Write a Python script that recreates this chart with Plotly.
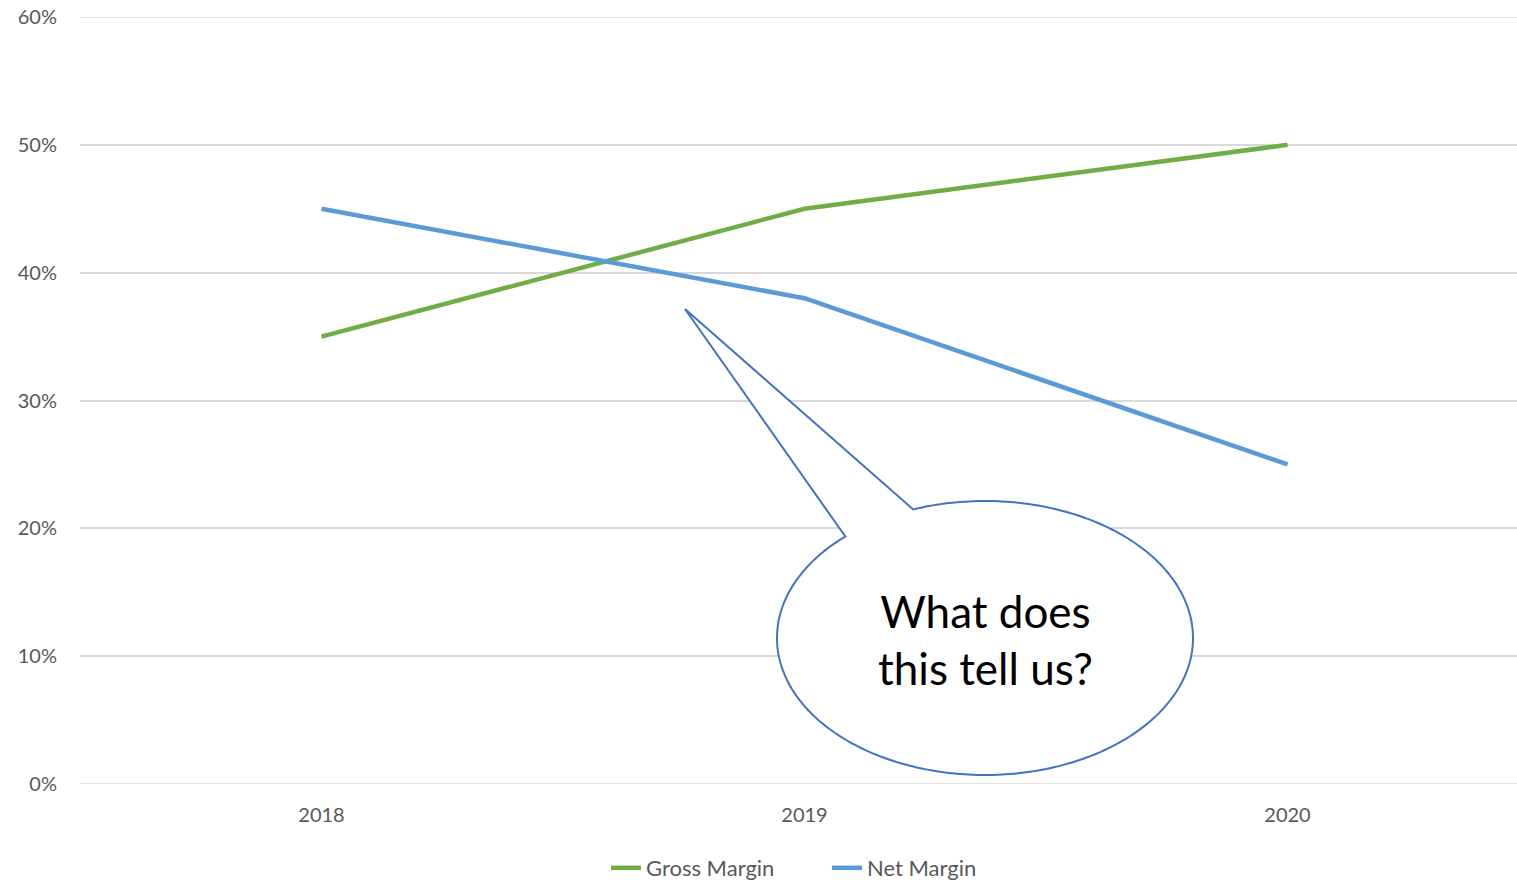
import numpy as np
import plotly.graph_objects as go

years = ["2018", "2019", "2020"]
gross_margin = [0.35, 0.45, 0.50]
net_margin = [0.45, 0.38, 0.25]
y_ticks = [0, 0.1, 0.2, 0.3, 0.4, 0.5, 0.6]
callout_text = "What does<br>this tell us?"

W, H = 1517, 883
L, R, T, B = 80, 1517, 17, 784

def px(xp):
    return (xp - L) / (R - L)

def py(yp):
    return (B - yp) / (B - T)

fig = go.Figure()
fig.add_trace(go.Scatter(x=years, y=gross_margin, mode="lines", name="Gross Margin",
                         line=dict(color="#70AD47", width=4.5)))
fig.add_trace(go.Scatter(x=years, y=net_margin, mode="lines", name="Net Margin",
                         line=dict(color="#5B9BD5", width=4.5)))

# gridlines at the range edges (plotly omits them)
for v in (y_ticks[0], y_ticks[-1]):
    fig.add_shape(type="line", xref="paper", yref="y", x0=0, x1=1, y0=v, y1=v,
                  line=dict(color="#D9D9D9", width=1.5), layer="below")

# speech bubble (ellipse + tail)
cx, cy, rx, ry = 985, 638, 208, 137
apex = (685, 309)
p_left = (846, 537)
p_right = (913, 509)
a0 = np.arctan2((p_right[1] - cy) / ry, (p_right[0] - cx) / rx)
a1 = np.arctan2((p_left[1] - cy) / ry, (p_left[0] - cx) / rx)
if a1 < a0:
    a1 += 2 * np.pi
angles = np.linspace(a0, a1, 300)
pts = [(cx + rx * np.cos(a), cy + ry * np.sin(a)) for a in angles]
pts = pts + [apex]
path = "M " + " L ".join(f"{px(x):.5f},{py(y):.5f}" for x, y in pts) + " Z"
fig.add_shape(type="path", path=path, xref="paper", yref="paper",
              line=dict(color="#4472C4", width=2), fillcolor="white", layer="above")

fig.add_annotation(x=px(985), y=py(639), xref="paper", yref="paper", text=callout_text,
                   showarrow=False, font=dict(family="Lato", size=44, color="black"),
                   xanchor="center", yanchor="middle")

fig.update_layout(
    width=W, height=H,
    margin=dict(l=L, r=W - R, t=T, b=H - B, autoexpand=False),
    paper_bgcolor="white", plot_bgcolor="white",
    font=dict(family="Lato", size=20, color="#595959"),
    showlegend=True,
    legend=dict(orientation="h", x=px(606), y=py(868), xanchor="left", yanchor="middle",
                font=dict(size=22, color="#595959"), entrywidth=176, entrywidthmode="pixels"),
    xaxis=dict(range=[-0.5, -0.5 + (R - L) / 483.0], showgrid=False, zeroline=False,
               showline=False, ticks="", tickfont=dict(size=20, color="#595959"),
               ticklabelstandoff=17),
    yaxis=dict(range=[0, 0.6], tickvals=y_ticks, tickformat=".0%", showgrid=True,
               gridcolor="#D9D9D9", gridwidth=1.5, zeroline=False, showline=False,
               ticks="", tickfont=dict(size=20, color="#595959"), ticklabelstandoff=22),
)

fig.write_html("out.html", config={"displayModeBar": False},
               post_script="document.body.style.margin='0';")
